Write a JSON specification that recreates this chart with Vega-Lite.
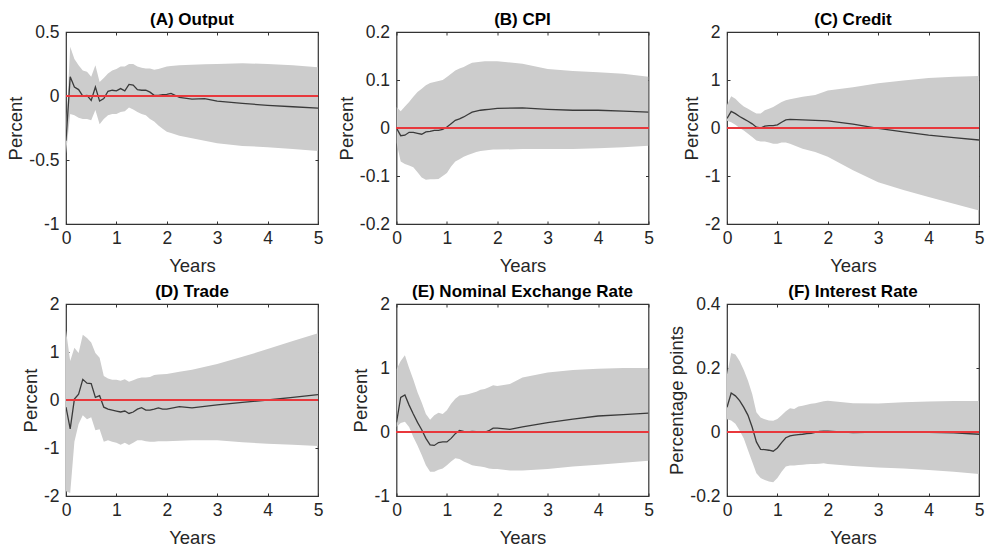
{
"$schema":"https://vega.github.io/schema/vega-lite/v6.json",
"background":"white",
"padding":{"left":6,"top":10,"right":5,"bottom":2},
"datasets":{"irf":[
{"p":"A","t":0,"y":-0.35,"lo":-0.45,"hi":-0.28},
{"p":"A","t":0.0833,"y":0.15,"lo":-0.14,"hi":0.385},
{"p":"A","t":0.1667,"y":0.07,"lo":-0.15,"hi":0.29},
{"p":"A","t":0.25,"y":0.05,"lo":-0.17,"hi":0.24},
{"p":"A","t":0.3333,"y":0.0,"lo":-0.18,"hi":0.2},
{"p":"A","t":0.4167,"y":0.005,"lo":-0.18,"hi":0.19},
{"p":"A","t":0.5,"y":-0.035,"lo":-0.19,"hi":0.15},
{"p":"A","t":0.5833,"y":0.07,"lo":-0.11,"hi":0.24},
{"p":"A","t":0.6667,"y":-0.04,"lo":-0.22,"hi":0.11},
{"p":"A","t":0.75,"y":-0.02,"lo":-0.18,"hi":0.14},
{"p":"A","t":0.8333,"y":0.037,"lo":-0.15,"hi":0.175},
{"p":"A","t":0.9167,"y":0.045,"lo":-0.14,"hi":0.2},
{"p":"A","t":1,"y":0.04,"lo":-0.14,"hi":0.21},
{"p":"A","t":1.0833,"y":0.058,"lo":-0.125,"hi":0.23},
{"p":"A","t":1.1667,"y":0.04,"lo":-0.12,"hi":0.23},
{"p":"A","t":1.25,"y":0.09,"lo":-0.09,"hi":0.25},
{"p":"A","t":1.3333,"y":0.085,"lo":-0.105,"hi":0.25},
{"p":"A","t":1.4167,"y":0.05,"lo":-0.125,"hi":0.23},
{"p":"A","t":1.5,"y":0.045,"lo":-0.14,"hi":0.22},
{"p":"A","t":1.5833,"y":0.045,"lo":-0.15,"hi":0.215},
{"p":"A","t":1.6667,"y":0.03,"lo":-0.18,"hi":0.215},
{"p":"A","t":1.75,"y":0.005,"lo":-0.2,"hi":0.205},
{"p":"A","t":1.8333,"y":0.005,"lo":-0.23,"hi":0.21},
{"p":"A","t":1.9167,"y":0.01,"lo":-0.255,"hi":0.22},
{"p":"A","t":2,"y":0.013,"lo":-0.28,"hi":0.23},
{"p":"A","t":2.0833,"y":0.02,"lo":-0.29,"hi":0.235},
{"p":"A","t":2.25,"y":-0.01,"lo":-0.31,"hi":0.24},
{"p":"A","t":2.5,"y":-0.024,"lo":-0.33,"hi":0.245},
{"p":"A","t":2.75,"y":-0.02,"lo":-0.35,"hi":0.248},
{"p":"A","t":3,"y":-0.04,"lo":-0.37,"hi":0.25},
{"p":"A","t":3.5,"y":-0.058,"lo":-0.39,"hi":0.256},
{"p":"A","t":4,"y":-0.073,"lo":-0.4,"hi":0.25},
{"p":"A","t":4.5,"y":-0.084,"lo":-0.415,"hi":0.24},
{"p":"A","t":5,"y":-0.094,"lo":-0.43,"hi":0.225},
{"p":"B","t":0,"y":0.0,"lo":-0.03,"hi":0.044},
{"p":"B","t":0.0833,"y":-0.016,"lo":-0.07,"hi":0.035},
{"p":"B","t":0.1667,"y":-0.015,"lo":-0.075,"hi":0.045},
{"p":"B","t":0.25,"y":-0.009,"lo":-0.078,"hi":0.054},
{"p":"B","t":0.3333,"y":-0.009,"lo":-0.082,"hi":0.065},
{"p":"B","t":0.4167,"y":-0.011,"lo":-0.092,"hi":0.075},
{"p":"B","t":0.5,"y":-0.013,"lo":-0.103,"hi":0.082},
{"p":"B","t":0.5833,"y":-0.008,"lo":-0.108,"hi":0.089},
{"p":"B","t":0.6667,"y":-0.007,"lo":-0.107,"hi":0.094},
{"p":"B","t":0.75,"y":-0.005,"lo":-0.107,"hi":0.096},
{"p":"B","t":0.8333,"y":-0.005,"lo":-0.106,"hi":0.098},
{"p":"B","t":0.9167,"y":-0.003,"lo":-0.1,"hi":0.1},
{"p":"B","t":1,"y":0.002,"lo":-0.094,"hi":0.106},
{"p":"B","t":1.0833,"y":0.009,"lo":-0.08,"hi":0.113},
{"p":"B","t":1.1667,"y":0.016,"lo":-0.07,"hi":0.12},
{"p":"B","t":1.25,"y":0.019,"lo":-0.065,"hi":0.124},
{"p":"B","t":1.3333,"y":0.023,"lo":-0.06,"hi":0.127},
{"p":"B","t":1.4167,"y":0.028,"lo":-0.056,"hi":0.132},
{"p":"B","t":1.5,"y":0.033,"lo":-0.053,"hi":0.136},
{"p":"B","t":1.5833,"y":0.035,"lo":-0.05,"hi":0.137},
{"p":"B","t":1.6667,"y":0.037,"lo":-0.048,"hi":0.138},
{"p":"B","t":1.75,"y":0.038,"lo":-0.047,"hi":0.139},
{"p":"B","t":1.8333,"y":0.039,"lo":-0.046,"hi":0.139},
{"p":"B","t":1.9167,"y":0.04,"lo":-0.045,"hi":0.139},
{"p":"B","t":2,"y":0.041,"lo":-0.045,"hi":0.139},
{"p":"B","t":2.5,"y":0.042,"lo":-0.044,"hi":0.134},
{"p":"B","t":3,"y":0.039,"lo":-0.044,"hi":0.123},
{"p":"B","t":3.5,"y":0.037,"lo":-0.044,"hi":0.119},
{"p":"B","t":4,"y":0.037,"lo":-0.042,"hi":0.116},
{"p":"B","t":4.5,"y":0.035,"lo":-0.04,"hi":0.113},
{"p":"B","t":5,"y":0.033,"lo":-0.037,"hi":0.107},
{"p":"C","t":0,"y":0.2,"lo":0.15,"hi":0.48},
{"p":"C","t":0.0833,"y":0.345,"lo":0.12,"hi":0.66},
{"p":"C","t":0.1667,"y":0.3,"lo":0.07,"hi":0.61},
{"p":"C","t":0.25,"y":0.24,"lo":0.0,"hi":0.52},
{"p":"C","t":0.3333,"y":0.19,"lo":-0.05,"hi":0.45},
{"p":"C","t":0.4167,"y":0.14,"lo":-0.12,"hi":0.4},
{"p":"C","t":0.5,"y":0.087,"lo":-0.19,"hi":0.35},
{"p":"C","t":0.5833,"y":0.017,"lo":-0.26,"hi":0.3},
{"p":"C","t":0.6667,"y":0.0,"lo":-0.28,"hi":0.3},
{"p":"C","t":0.75,"y":0.04,"lo":-0.28,"hi":0.37},
{"p":"C","t":0.8333,"y":0.05,"lo":-0.3,"hi":0.4},
{"p":"C","t":0.9167,"y":0.05,"lo":-0.33,"hi":0.44},
{"p":"C","t":1,"y":0.066,"lo":-0.33,"hi":0.49},
{"p":"C","t":1.0833,"y":0.12,"lo":-0.3,"hi":0.54},
{"p":"C","t":1.1667,"y":0.17,"lo":-0.3,"hi":0.58},
{"p":"C","t":1.25,"y":0.18,"lo":-0.33,"hi":0.6},
{"p":"C","t":1.5,"y":0.17,"lo":-0.43,"hi":0.65},
{"p":"C","t":1.75,"y":0.16,"lo":-0.5,"hi":0.69},
{"p":"C","t":2,"y":0.15,"lo":-0.6,"hi":0.78},
{"p":"C","t":2.5,"y":0.08,"lo":-0.88,"hi":0.85},
{"p":"C","t":3,"y":-0.01,"lo":-1.13,"hi":0.93},
{"p":"C","t":3.5,"y":-0.08,"lo":-1.29,"hi":0.99},
{"p":"C","t":4,"y":-0.15,"lo":-1.44,"hi":1.04},
{"p":"C","t":4.5,"y":-0.2,"lo":-1.58,"hi":1.07},
{"p":"C","t":5,"y":-0.25,"lo":-1.72,"hi":1.085},
{"p":"D","t":0,"y":-0.15,"lo":-1.9,"hi":1.45},
{"p":"D","t":0.0833,"y":-0.6,"lo":-1.94,"hi":0.81},
{"p":"D","t":0.1667,"y":0.02,"lo":-0.87,"hi":1.09},
{"p":"D","t":0.25,"y":0.12,"lo":-0.5,"hi":0.98},
{"p":"D","t":0.3333,"y":0.43,"lo":-0.32,"hi":1.36},
{"p":"D","t":0.4167,"y":0.35,"lo":-0.4,"hi":1.29},
{"p":"D","t":0.5,"y":0.34,"lo":-0.36,"hi":1.2},
{"p":"D","t":0.5833,"y":0.055,"lo":-0.63,"hi":0.98},
{"p":"D","t":0.6667,"y":0.09,"lo":-0.61,"hi":0.88},
{"p":"D","t":0.75,"y":-0.15,"lo":-0.87,"hi":0.5},
{"p":"D","t":0.8333,"y":-0.19,"lo":-0.84,"hi":0.45},
{"p":"D","t":0.9167,"y":-0.21,"lo":-0.87,"hi":0.42},
{"p":"D","t":1,"y":-0.23,"lo":-0.89,"hi":0.42},
{"p":"D","t":1.0833,"y":-0.25,"lo":-0.93,"hi":0.4},
{"p":"D","t":1.1667,"y":-0.23,"lo":-0.89,"hi":0.43},
{"p":"D","t":1.25,"y":-0.28,"lo":-0.94,"hi":0.38},
{"p":"D","t":1.3333,"y":-0.25,"lo":-0.89,"hi":0.41},
{"p":"D","t":1.4167,"y":-0.19,"lo":-0.84,"hi":0.45},
{"p":"D","t":1.5,"y":-0.16,"lo":-0.84,"hi":0.47},
{"p":"D","t":1.5833,"y":-0.21,"lo":-0.86,"hi":0.47},
{"p":"D","t":1.6667,"y":-0.21,"lo":-0.87,"hi":0.48},
{"p":"D","t":1.75,"y":-0.19,"lo":-0.87,"hi":0.52},
{"p":"D","t":1.8333,"y":-0.165,"lo":-0.86,"hi":0.53},
{"p":"D","t":1.9167,"y":-0.19,"lo":-0.86,"hi":0.535},
{"p":"D","t":2,"y":-0.19,"lo":-0.86,"hi":0.54},
{"p":"D","t":2.25,"y":-0.14,"lo":-0.85,"hi":0.59},
{"p":"D","t":2.5,"y":-0.165,"lo":-0.84,"hi":0.63},
{"p":"D","t":3,"y":-0.1,"lo":-0.84,"hi":0.75},
{"p":"D","t":3.5,"y":-0.05,"lo":-0.88,"hi":0.9},
{"p":"D","t":4,"y":0.0,"lo":-0.91,"hi":1.06},
{"p":"D","t":4.5,"y":0.055,"lo":-0.93,"hi":1.23},
{"p":"D","t":5,"y":0.11,"lo":-0.96,"hi":1.39},
{"p":"E","t":0,"y":0.15,"lo":0.08,"hi":0.98},
{"p":"E","t":0.0833,"y":0.54,"lo":0.14,"hi":1.11},
{"p":"E","t":0.1667,"y":0.58,"lo":0.16,"hi":1.2},
{"p":"E","t":0.25,"y":0.42,"lo":0.08,"hi":1.0},
{"p":"E","t":0.3333,"y":0.28,"lo":-0.08,"hi":0.82},
{"p":"E","t":0.4167,"y":0.15,"lo":-0.21,"hi":0.62},
{"p":"E","t":0.5,"y":0.036,"lo":-0.36,"hi":0.46},
{"p":"E","t":0.5833,"y":-0.1,"lo":-0.52,"hi":0.28},
{"p":"E","t":0.6667,"y":-0.2,"lo":-0.62,"hi":0.19},
{"p":"E","t":0.75,"y":-0.21,"lo":-0.62,"hi":0.26},
{"p":"E","t":0.8333,"y":-0.165,"lo":-0.59,"hi":0.3},
{"p":"E","t":0.9167,"y":-0.155,"lo":-0.57,"hi":0.28},
{"p":"E","t":1,"y":-0.155,"lo":-0.52,"hi":0.34},
{"p":"E","t":1.0833,"y":-0.1,"lo":-0.46,"hi":0.44},
{"p":"E","t":1.1667,"y":-0.026,"lo":-0.41,"hi":0.52},
{"p":"E","t":1.25,"y":0.026,"lo":-0.42,"hi":0.57},
{"p":"E","t":1.3333,"y":0.01,"lo":-0.46,"hi":0.58},
{"p":"E","t":1.4167,"y":0.0,"lo":-0.49,"hi":0.59},
{"p":"E","t":1.5,"y":0.01,"lo":-0.52,"hi":0.61},
{"p":"E","t":1.5833,"y":0.005,"lo":-0.53,"hi":0.63},
{"p":"E","t":1.6667,"y":0.0,"lo":-0.54,"hi":0.66},
{"p":"E","t":1.75,"y":-0.005,"lo":-0.55,"hi":0.67},
{"p":"E","t":1.8333,"y":0.02,"lo":-0.57,"hi":0.7},
{"p":"E","t":1.9167,"y":0.06,"lo":-0.58,"hi":0.73},
{"p":"E","t":2,"y":0.06,"lo":-0.58,"hi":0.72},
{"p":"E","t":2.25,"y":0.04,"lo":-0.6,"hi":0.75},
{"p":"E","t":2.5,"y":0.08,"lo":-0.6,"hi":0.85},
{"p":"E","t":3,"y":0.145,"lo":-0.58,"hi":0.93},
{"p":"E","t":3.5,"y":0.2,"lo":-0.54,"hi":0.97},
{"p":"E","t":4,"y":0.25,"lo":-0.51,"hi":0.99},
{"p":"E","t":4.5,"y":0.27,"lo":-0.48,"hi":1.0},
{"p":"E","t":5,"y":0.295,"lo":-0.45,"hi":1.0},
{"p":"F","t":0,"y":0.077,"lo":0.04,"hi":0.18},
{"p":"F","t":0.0833,"y":0.122,"lo":0.036,"hi":0.247},
{"p":"F","t":0.1667,"y":0.113,"lo":0.026,"hi":0.242},
{"p":"F","t":0.25,"y":0.098,"lo":0.005,"hi":0.222},
{"p":"F","t":0.3333,"y":0.077,"lo":-0.02,"hi":0.194},
{"p":"F","t":0.4167,"y":0.052,"lo":-0.057,"hi":0.16},
{"p":"F","t":0.5,"y":0.015,"lo":-0.093,"hi":0.119},
{"p":"F","t":0.5833,"y":-0.031,"lo":-0.129,"hi":0.062},
{"p":"F","t":0.6667,"y":-0.054,"lo":-0.144,"hi":0.045},
{"p":"F","t":0.75,"y":-0.055,"lo":-0.15,"hi":0.04},
{"p":"F","t":0.8333,"y":-0.057,"lo":-0.155,"hi":0.036},
{"p":"F","t":0.9167,"y":-0.06,"lo":-0.157,"hi":0.035},
{"p":"F","t":1,"y":-0.05,"lo":-0.144,"hi":0.041},
{"p":"F","t":1.0833,"y":-0.033,"lo":-0.124,"hi":0.052},
{"p":"F","t":1.1667,"y":-0.018,"lo":-0.108,"hi":0.065},
{"p":"F","t":1.25,"y":-0.012,"lo":-0.105,"hi":0.074},
{"p":"F","t":1.3333,"y":-0.01,"lo":-0.105,"hi":0.072},
{"p":"F","t":1.4167,"y":-0.008,"lo":-0.103,"hi":0.08},
{"p":"F","t":1.5,"y":-0.007,"lo":-0.102,"hi":0.082},
{"p":"F","t":1.5833,"y":-0.005,"lo":-0.101,"hi":0.085},
{"p":"F","t":1.6667,"y":-0.004,"lo":-0.1,"hi":0.088},
{"p":"F","t":1.75,"y":-0.001,"lo":-0.1,"hi":0.09},
{"p":"F","t":1.8333,"y":0.002,"lo":-0.099,"hi":0.093},
{"p":"F","t":1.9167,"y":0.003,"lo":-0.098,"hi":0.096},
{"p":"F","t":2,"y":0.003,"lo":-0.1,"hi":0.098},
{"p":"F","t":2.5,"y":-0.002,"lo":-0.106,"hi":0.09},
{"p":"F","t":3,"y":0.0,"lo":-0.111,"hi":0.089},
{"p":"F","t":3.5,"y":0.001,"lo":-0.114,"hi":0.093},
{"p":"F","t":4,"y":-0.001,"lo":-0.119,"hi":0.095},
{"p":"F","t":4.5,"y":-0.003,"lo":-0.124,"hi":0.097},
{"p":"F","t":5,"y":-0.007,"lo":-0.131,"hi":0.097}
]},
"data":{"name":"irf"},
"columns":3,
"spacing":{"row":80,"column":78.5},
"bounds":"flush",
"concat":[
{"title":"(A) Output","width":252,"height":192,
 "transform":[{"filter":"datum.p === 'A'"}],
 "layer":[
  {"mark":{"type":"area","color":"#cccccc","opacity":1,"clip":true},
   "encoding":{
    "x":{"field":"t","type":"quantitative","scale":{"domain":[0,5],"nice":false,"zero":false},"axis":{"values":[0,1,2,3,4,5],"title":"Years"}},
    "y":{"field":"lo","type":"quantitative","scale":{"domain":[-1,0.5],"nice":false,"zero":false},"axis":{"values":[-1,-0.5,0,0.5],"title":"Percent","labelExpr":"replace(format(datum.value,''),'−','-')"}},
    "y2":{"field":"hi"}}},
  {"mark":{"type":"line","color":"#3a3a3a","strokeWidth":1.3,"clip":true},
   "encoding":{
    "x":{"field":"t","type":"quantitative","axis":{"orient":"top","values":[0,1,2,3,4,5],"labels":false,"title":null}},
    "y":{"field":"y","type":"quantitative","axis":{"orient":"right","values":[-1,-0.5,0,0.5],"labels":false,"title":null}}}},
  {"mark":{"type":"rule","color":"#e8383d","strokeWidth":1.3},
   "encoding":{"y":{"datum":0,"axis":null}}}
 ],
 "resolve":{"axis":{"x":"independent","y":"independent"}}},
{"title":"(B) CPI","width":252,"height":192,
 "transform":[{"filter":"datum.p === 'B'"}],
 "layer":[
  {"mark":{"type":"area","color":"#cccccc","opacity":1,"clip":true},
   "encoding":{
    "x":{"field":"t","type":"quantitative","scale":{"domain":[0,5],"nice":false,"zero":false},"axis":{"values":[0,1,2,3,4,5],"title":"Years"}},
    "y":{"field":"lo","type":"quantitative","scale":{"domain":[-0.2,0.2],"nice":false,"zero":false},"axis":{"values":[-0.2,-0.1,0,0.1,0.2],"title":"Percent","labelExpr":"replace(format(datum.value,''),'−','-')"}},
    "y2":{"field":"hi"}}},
  {"mark":{"type":"line","color":"#3a3a3a","strokeWidth":1.3,"clip":true},
   "encoding":{
    "x":{"field":"t","type":"quantitative","axis":{"orient":"top","values":[0,1,2,3,4,5],"labels":false,"title":null}},
    "y":{"field":"y","type":"quantitative","axis":{"orient":"right","values":[-0.2,-0.1,0,0.1,0.2],"labels":false,"title":null}}}},
  {"mark":{"type":"rule","color":"#e8383d","strokeWidth":1.3},
   "encoding":{"y":{"datum":0,"axis":null}}}
 ],
 "resolve":{"axis":{"x":"independent","y":"independent"}}},
{"title":"(C) Credit","width":252,"height":192,
 "transform":[{"filter":"datum.p === 'C'"}],
 "layer":[
  {"mark":{"type":"area","color":"#cccccc","opacity":1,"clip":true},
   "encoding":{
    "x":{"field":"t","type":"quantitative","scale":{"domain":[0,5],"nice":false,"zero":false},"axis":{"values":[0,1,2,3,4,5],"title":"Years"}},
    "y":{"field":"lo","type":"quantitative","scale":{"domain":[-2,2],"nice":false,"zero":false},"axis":{"values":[-2,-1,0,1,2],"title":"Percent","labelExpr":"replace(format(datum.value,''),'−','-')"}},
    "y2":{"field":"hi"}}},
  {"mark":{"type":"line","color":"#3a3a3a","strokeWidth":1.3,"clip":true},
   "encoding":{
    "x":{"field":"t","type":"quantitative","axis":{"orient":"top","values":[0,1,2,3,4,5],"labels":false,"title":null}},
    "y":{"field":"y","type":"quantitative","axis":{"orient":"right","values":[-2,-1,0,1,2],"labels":false,"title":null}}}},
  {"mark":{"type":"rule","color":"#e8383d","strokeWidth":1.3},
   "encoding":{"y":{"datum":0,"axis":null}}}
 ],
 "resolve":{"axis":{"x":"independent","y":"independent"}}},
{"title":"(D) Trade","width":252,"height":192,
 "transform":[{"filter":"datum.p === 'D'"}],
 "layer":[
  {"mark":{"type":"area","color":"#cccccc","opacity":1,"clip":true},
   "encoding":{
    "x":{"field":"t","type":"quantitative","scale":{"domain":[0,5],"nice":false,"zero":false},"axis":{"values":[0,1,2,3,4,5],"title":"Years"}},
    "y":{"field":"lo","type":"quantitative","scale":{"domain":[-2,2],"nice":false,"zero":false},"axis":{"values":[-2,-1,0,1,2],"title":"Percent","labelExpr":"replace(format(datum.value,''),'−','-')"}},
    "y2":{"field":"hi"}}},
  {"mark":{"type":"line","color":"#3a3a3a","strokeWidth":1.3,"clip":true},
   "encoding":{
    "x":{"field":"t","type":"quantitative","axis":{"orient":"top","values":[0,1,2,3,4,5],"labels":false,"title":null}},
    "y":{"field":"y","type":"quantitative","axis":{"orient":"right","values":[-2,-1,0,1,2],"labels":false,"title":null}}}},
  {"mark":{"type":"rule","color":"#e8383d","strokeWidth":1.3},
   "encoding":{"y":{"datum":0,"axis":null}}}
 ],
 "resolve":{"axis":{"x":"independent","y":"independent"}}},
{"title":"(E) Nominal Exchange Rate","width":252,"height":192,
 "transform":[{"filter":"datum.p === 'E'"}],
 "layer":[
  {"mark":{"type":"area","color":"#cccccc","opacity":1,"clip":true},
   "encoding":{
    "x":{"field":"t","type":"quantitative","scale":{"domain":[0,5],"nice":false,"zero":false},"axis":{"values":[0,1,2,3,4,5],"title":"Years"}},
    "y":{"field":"lo","type":"quantitative","scale":{"domain":[-1,2],"nice":false,"zero":false},"axis":{"values":[-1,0,1,2],"title":"Percent","labelExpr":"replace(format(datum.value,''),'−','-')"}},
    "y2":{"field":"hi"}}},
  {"mark":{"type":"line","color":"#3a3a3a","strokeWidth":1.3,"clip":true},
   "encoding":{
    "x":{"field":"t","type":"quantitative","axis":{"orient":"top","values":[0,1,2,3,4,5],"labels":false,"title":null}},
    "y":{"field":"y","type":"quantitative","axis":{"orient":"right","values":[-1,0,1,2],"labels":false,"title":null}}}},
  {"mark":{"type":"rule","color":"#e8383d","strokeWidth":1.3},
   "encoding":{"y":{"datum":0,"axis":null}}}
 ],
 "resolve":{"axis":{"x":"independent","y":"independent"}}},
{"title":"(F) Interest Rate","width":252,"height":192,
 "transform":[{"filter":"datum.p === 'F'"}],
 "layer":[
  {"mark":{"type":"area","color":"#cccccc","opacity":1,"clip":true},
   "encoding":{
    "x":{"field":"t","type":"quantitative","scale":{"domain":[0,5],"nice":false,"zero":false},"axis":{"values":[0,1,2,3,4,5],"title":"Years"}},
    "y":{"field":"lo","type":"quantitative","scale":{"domain":[-0.2,0.4],"nice":false,"zero":false},"axis":{"values":[-0.2,0,0.2,0.4],"title":"Percentage points","labelExpr":"replace(format(datum.value,''),'−','-')"}},
    "y2":{"field":"hi"}}},
  {"mark":{"type":"line","color":"#3a3a3a","strokeWidth":1.3,"clip":true},
   "encoding":{
    "x":{"field":"t","type":"quantitative","axis":{"orient":"top","values":[0,1,2,3,4,5],"labels":false,"title":null}},
    "y":{"field":"y","type":"quantitative","axis":{"orient":"right","values":[-0.2,0,0.2,0.4],"labels":false,"title":null}}}},
  {"mark":{"type":"rule","color":"#e8383d","strokeWidth":1.3},
   "encoding":{"y":{"datum":0,"axis":null}}}
 ],
 "resolve":{"axis":{"x":"independent","y":"independent"}}}
],
"config":{
 "font":"Liberation Sans",
 "view":{"stroke":"#333333","strokeWidth":1.2},
 "axis":{"domain":false,"grid":false,"tickSize":-3,"tickColor":"#333333","tickWidth":1,
  "labelFontSize":17.5,"labelColor":"#262626","titleFontSize":18.5,"titleFontWeight":"normal","titleColor":"#262626","labelFlush":false,"labelOverlap":false},
 "axisX":{"labelPadding":8,"titlePadding":10},
 "axisY":{"labelPadding":10,"titlePadding":3},
 "title":{"fontSize":17,"fontWeight":"bold","color":"#000000","offset":-6,"baseline":"alphabetic","anchor":"middle","frame":"group"}
}
}
